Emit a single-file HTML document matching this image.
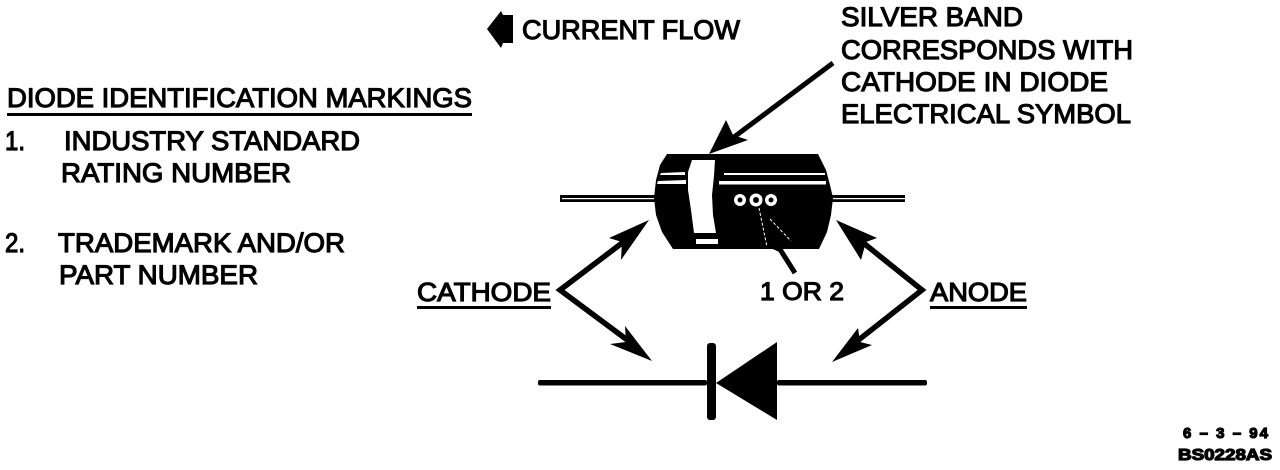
<!DOCTYPE html>
<html>
<head>
<meta charset="utf-8">
<style>
html,body{margin:0;padding:0;background:#fff;width:1280px;height:470px;overflow:hidden}
svg{display:block}
text{font-family:"Liberation Sans",sans-serif;fill:#000;stroke:#000;stroke-width:1.15px;font-size:27px}
</style>
</head>
<body>
<svg width="1280" height="470" viewBox="0 0 1280 470" xmlns="http://www.w3.org/2000/svg">
<!-- current flow arrow -->
<polygon points="487,29 501,11 503,15 513,15 513,43 503,43 501,48" fill="#000"/>
<text x="522" y="39" textLength="218" lengthAdjust="spacingAndGlyphs">CURRENT FLOW</text>

<!-- silver band note -->
<text x="841" y="26" textLength="182" lengthAdjust="spacingAndGlyphs">SILVER BAND</text>
<text x="841" y="59" textLength="292" lengthAdjust="spacingAndGlyphs">CORRESPONDS WITH</text>
<text x="841" y="91" textLength="267" lengthAdjust="spacingAndGlyphs">CATHODE IN DIODE</text>
<text x="841" y="123" textLength="290" lengthAdjust="spacingAndGlyphs">ELECTRICAL SYMBOL</text>

<!-- left list -->
<text x="7" y="107" textLength="465" lengthAdjust="spacingAndGlyphs">DIODE IDENTIFICATION MARKINGS</text>
<rect x="7" y="113" width="465" height="3" fill="#000"/>
<text x="5" y="150" textLength="20" lengthAdjust="spacingAndGlyphs">1.</text>
<text x="64" y="150" textLength="296" lengthAdjust="spacingAndGlyphs">INDUSTRY STANDARD</text>
<text x="61" y="182" textLength="230" lengthAdjust="spacingAndGlyphs">RATING NUMBER</text>
<text x="5" y="252" textLength="20" lengthAdjust="spacingAndGlyphs">2.</text>
<text x="58" y="252" textLength="287" lengthAdjust="spacingAndGlyphs">TRADEMARK AND/OR</text>
<text x="59" y="284" textLength="199" lengthAdjust="spacingAndGlyphs">PART NUMBER</text>

<!-- leads -->
<rect x="560" y="195" width="96" height="7" fill="#000"/>
<rect x="562" y="198" width="94" height="1.2" fill="#fff"/>
<rect x="832" y="195" width="73" height="7" fill="#000"/>
<rect x="832" y="198" width="73" height="1.2" fill="#fff"/>

<!-- diode body -->
<polygon points="667,154 818,154 826,170 830,185 833,198 831,215 827,232 819,249 673,249 662,232 656,215 654,198 656,180 660,165" fill="#000"/>
<polygon points="692,160 715,160 714,176 712,195 713,215 716,233 694,233 691,210 688,190 688,172" fill="#fff"/>
<rect x="696" y="239" width="22" height="5" fill="#fff"/>
<polygon points="661,173 685,172 685,175 660,175" fill="#fff"/>
<polygon points="658,181 686,180 686,184 657,184" fill="#fff"/>
<rect x="724" y="173" width="101" height="2" fill="#fff"/>
<rect x="719" y="181" width="107" height="3.5" fill="#fff"/>
<!-- dots -->
<circle cx="740" cy="200" r="6" fill="#fff"/><circle cx="740" cy="200" r="2.5" fill="#000"/>
<circle cx="756" cy="200" r="6.5" fill="#fff"/><circle cx="756" cy="200" r="3" fill="#000"/>
<circle cx="771" cy="200" r="6" fill="#fff"/><circle cx="771" cy="200" r="2.5" fill="#000"/>
<!-- thin white outlines of 1-or-2 arrow -->
<path d="M759,208 L767,247" stroke="#fff" stroke-width="1" stroke-dasharray="3 2" fill="none"/>
<path d="M770,219 L791,241" stroke="#fff" stroke-width="1" stroke-dasharray="3 2" fill="none"/>

<!-- silver band arrow -->
<line x1="833" y1="63" x2="730" y2="140" stroke="#000" stroke-width="5"/>
<polygon points="709,154 726,120 733,135 748,140" fill="#000"/>

<!-- 1 or 2 arrow -->
<line x1="795" y1="273" x2="776" y2="243" stroke="#000" stroke-width="5"/>
<polygon points="768,247 781,241 790,240 783,248 779,252 775,250" fill="#000"/>
<text x="760" y="300" textLength="84" lengthAdjust="spacingAndGlyphs" style="font-size:25px">1 OR 2</text>

<!-- cathode -->
<text x="417" y="301" textLength="134" lengthAdjust="spacingAndGlyphs" style="font-size:26px">CATHODE</text>
<rect x="417" y="306" width="134" height="3" fill="#000"/>
<path d="M630,237 L560,290 L630,342" fill="none" stroke="#000" stroke-width="5.5" stroke-linejoin="miter"/>
<polygon points="649,220 609,238 622,242 621,260" fill="#000"/>
<polygon points="652,361 625,326 626,342 610,344" fill="#000"/>

<!-- anode -->
<text x="930" y="301" textLength="97" lengthAdjust="spacingAndGlyphs" style="font-size:26px">ANODE</text>
<rect x="930" y="306" width="97" height="3" fill="#000"/>
<path d="M856,237 L922,290 L856,342" fill="none" stroke="#000" stroke-width="5.5" stroke-linejoin="miter"/>
<polygon points="836,220 877,238 866,242 861,260" fill="#000"/>
<polygon points="832,362 858,328 860,342 872,345" fill="#000"/>

<!-- diode symbol -->
<rect x="538" y="380" width="169" height="5.5" rx="2" fill="#000"/>
<rect x="707" y="343" width="9" height="77" rx="3" fill="#000"/>
<polygon points="716,383 777,342 777,420" fill="#000"/>
<rect x="777" y="380" width="150" height="5.5" rx="2" fill="#000"/>

<!-- footer -->
<text x="1183" y="438" textLength="85" lengthAdjust="spacing" style="font-size:15px;font-weight:bold;stroke-width:1.2px">6 – 3 – 94</text>
<text x="1178" y="460" textLength="94" lengthAdjust="spacingAndGlyphs" style="font-size:16px;font-weight:bold;stroke-width:1.2px">BS0228AS</text>
</svg>
</body>
</html>
